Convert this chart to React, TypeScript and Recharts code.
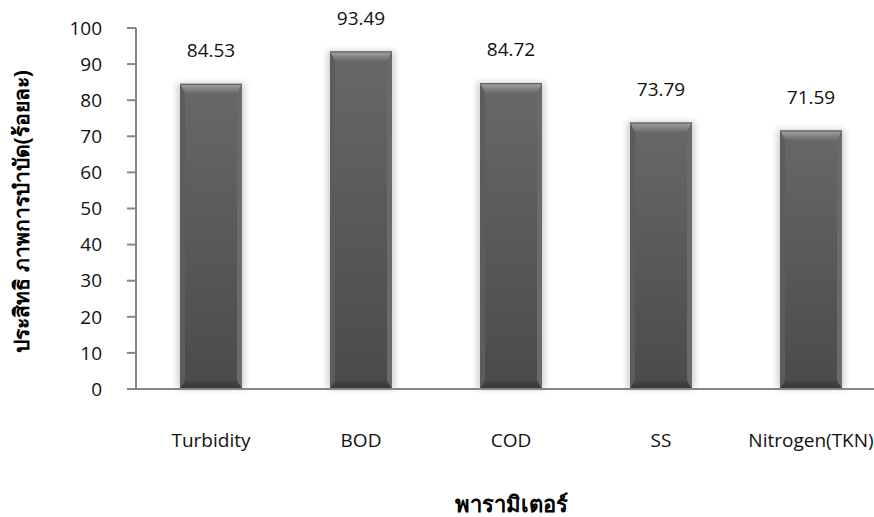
import React from 'react';
import { BarChart, Bar, XAxis, YAxis, LabelList, Label } from 'recharts';

// Treatment parameters and removal efficiency (%)
const parameters = ['Turbidity', 'BOD', 'COD', 'SS', 'Nitrogen(TKN)'];
const efficiency = [84.53, 93.49, 84.72, 73.79, 71.59];
const yTicks = [0, 10, 20, 30, 40, 50, 60, 70, 80, 90, 100];

const yTitle = 'ประสิทธิ ภาพการบำบัด(ร้อยละ)';
const xTitle = 'พารามิเตอร์';

const data = parameters.map((name, i) => ({ name, value: efficiency[i] }));

const LATIN = "'Open Sans', 'Liberation Sans', Arial, sans-serif";
const AXIS = '#868686';

// Bevelled bar with a soft shadow
const BevelBar = (props: any) => {
  const { x, y, width: w, height: h, index } = props;
  if (!h || h <= 0) return null;
  const bt = 10;
  const bb = 8;
  const bs = 5;
  const id = `bev${index}`;
  return (
    <g>
      <defs>
        <linearGradient id={`${id}body`} x1="0" y1="0" x2="0" y2="1">
          <stop offset="0%" stopColor="#686868" />
          <stop offset="100%" stopColor="#4a4a4a" />
        </linearGradient>
        <linearGradient id={`${id}top`} x1="0" y1="0" x2="0" y2="1">
          <stop offset="0%" stopColor="#a4a4a4" />
          <stop offset="100%" stopColor="#686868" />
        </linearGradient>
        <linearGradient id={`${id}bot`} x1="0" y1="0" x2="0" y2="1">
          <stop offset="0%" stopColor="#454545" />
          <stop offset="100%" stopColor="#363636" />
        </linearGradient>
        <filter id={`${id}blur`} x="-30%" y="-10%" width="160%" height="120%">
          <feGaussianBlur stdDeviation="3" />
        </filter>
      </defs>
      <rect x={x - 3} y={y - 1} width={w + 6} height={h + 1} fill="#000" opacity={0.18} filter={`url(#${id}blur)`} />
      <rect x={x} y={y} width={w} height={h} fill={`url(#${id}body)`} />
      <polygon
        points={`${x},${y} ${x + w},${y} ${x + w - bs},${y + bt} ${x + bs},${y + bt}`}
        fill={`url(#${id}top)`}
      />
      <polygon
        points={`${x},${y} ${x + bs},${y + bt} ${x + bs},${y + h - bb} ${x},${y + h}`}
        fill="#5c5c5c"
      />
      <polygon
        points={`${x + w},${y} ${x + w - bs},${y + bt} ${x + w - bs},${y + h - bb} ${x + w},${y + h}`}
        fill="#6a6a6a"
      />
      <polygon
        points={`${x},${y + h} ${x + bs},${y + h - bb} ${x + w - bs},${y + h - bb} ${x + w},${y + h}`}
        fill={`url(#${id}bot)`}
      />
      <line x1={x} y1={y + 0.5} x2={x + w} y2={y + 0.5} stroke="#555" strokeWidth={1} />
    </g>
  );
};

const XTick = (props: any) => {
  const { x, y, payload } = props;
  return (
    <text x={x} y={y + 58} textAnchor="middle" fill="#111" fontSize={19} fontFamily={LATIN}>
      {payload.value}
    </text>
  );
};

const YTitle = (props: any) => {
  const { viewBox } = props;
  const cy = viewBox.y + viewBox.height / 2 + 3;
  return (
    <text
      x={21}
      y={cy}
      transform={`rotate(-90, 21, ${cy})`}
      textAnchor="middle"
      dominantBaseline="central"
      fontSize={21}
      fontWeight="bold"
      fill="#000"
      fontFamily={LATIN}
    >
      {yTitle}
    </text>
  );
};

const XTitle = (props: any) => {
  const { viewBox } = props;
  const cx = viewBox.x + viewBox.width / 2;
  return (
    <text x={cx} y={512} textAnchor="middle" fontSize={22} fontWeight="bold" fill="#000" fontFamily={LATIN}>
      {xTitle}
    </text>
  );
};

export default function App() {
  return (
    <div
      style={{
        position: 'fixed',
        left: 0,
        top: 0,
        width: 874,
        height: 517,
        overflow: 'hidden',
        background: '#fff',
      }}
    >
      <BarChart
        width={886}
        height={517}
        data={data}
        margin={{ top: 28, right: 0, bottom: 0, left: 0 }}
        barCategoryGap={0}
      >
        <XAxis
          dataKey="name"
          height={128}
          axisLine={{ stroke: AXIS, strokeWidth: 2 }}
          tickLine={false}
          tickSize={0}
          tickMargin={0}
          tick={<XTick />}
          interval={0}
        >
          <Label content={<XTitle />} />
        </XAxis>
        <YAxis
          width={136}
          domain={[0, 100]}
          ticks={yTicks}
          interval={0}
          axisLine={{ stroke: AXIS, strokeWidth: 2 }}
          tickLine={{ stroke: AXIS, strokeWidth: 2 }}
          tickSize={9}
          tickMargin={25}
          tick={{ fill: '#111', fontSize: 19, fontFamily: LATIN }}
        >
          <Label content={<YTitle />} />
        </YAxis>
        <Bar dataKey="value" barSize={62} shape={<BevelBar />} isAnimationActive={false}>
          <LabelList
            dataKey="value"
            position="top"
            offset={27}
            fill="#111"
            fontSize={19}
            fontFamily={LATIN}
            formatter={(v: any) => Number(v).toFixed(2)}
          />
        </Bar>
      </BarChart>
    </div>
  );
}
